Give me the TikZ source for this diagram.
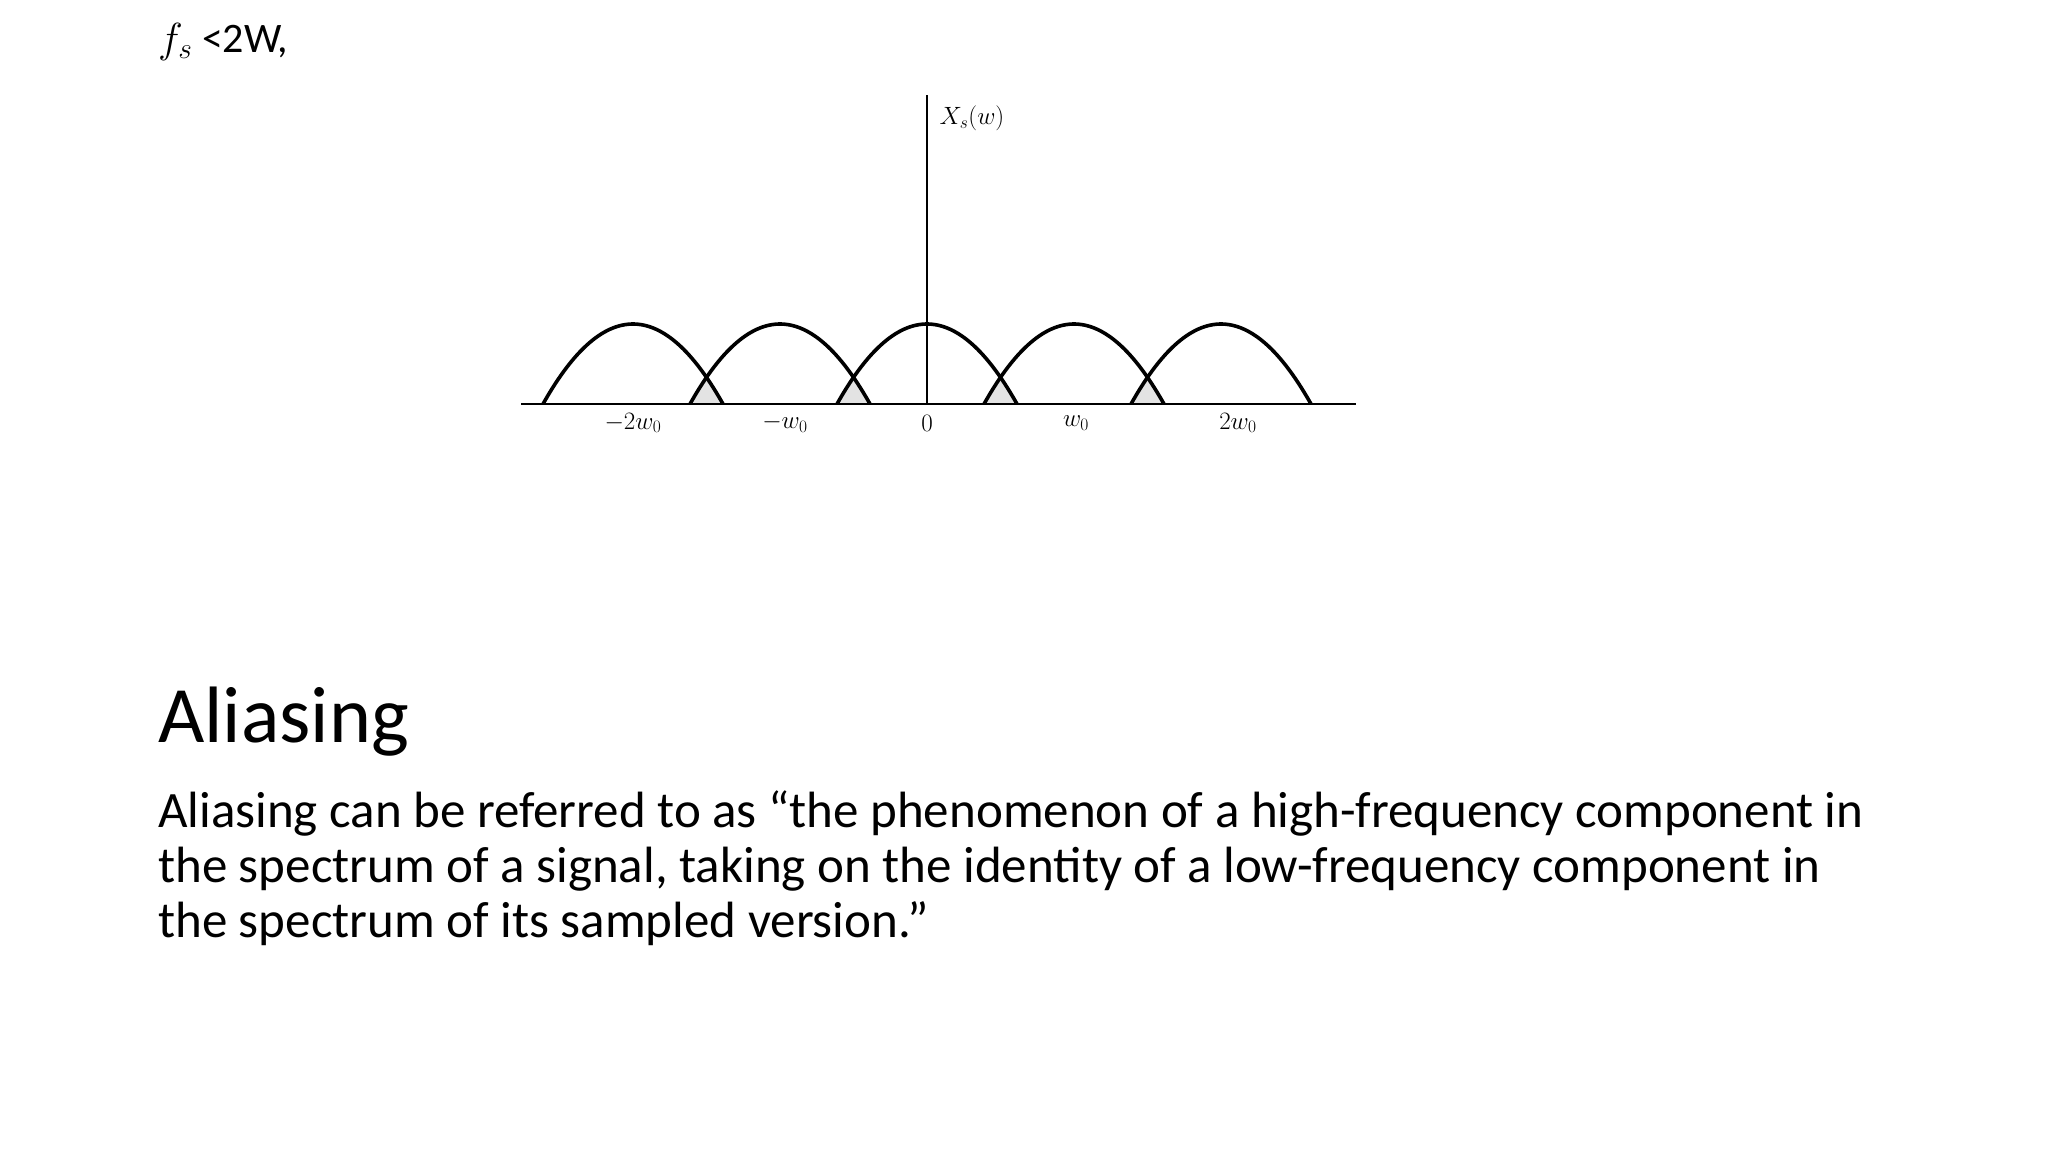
\RequirePackage{fix-cm}
\documentclass[tikz,border=0pt]{standalone}
\usepackage{fontspec}
\setmainfont{Carlito}
\begin{document}
\begin{tikzpicture}[x=1pt,y=-1pt,
  ax/.style={line width=2.2pt},
  hump/.style={line width=3.6pt,line join=round},
  lab/.style={font=\fontsize{25}{30}\selectfont,anchor=center}]
\useasboundingbox (0,0) rectangle (2048,1152);
\fill[white] (0,0) rectangle (2048,1152);
\def\hw{90}\def\hh{80}
\foreach \k in {-2,-1,0,1} {
  \pgfmathsetmacro\ca{927+\k*147}
  \pgfmathsetmacro\cb{927+(\k+1)*147}
  \begin{scope}
    \clip[domain=-\hw:\hw,samples=40] plot ({\ca+\x},{404-\hh*(1-(\x/\hw)^2)}) -- cycle;
    \fill[gray!22,domain=-\hw:\hw,samples=40] plot ({\cb+\x},{404-\hh*(1-(\x/\hw)^2)}) -- cycle;
  \end{scope}
}
\foreach \k in {-2,-1,0,1,2} {
  \pgfmathsetmacro\c{927+\k*147}
  \draw[hump,domain=-\hw:\hw,samples=60] plot ({\c+\x},{404-\hh*(1-(\x/\hw)^2)});
}
\coordinate (xl) at (521,404); \coordinate (xr) at (1356,404);
\coordinate (yb) at (927,404); \coordinate (yt) at (927,95);
\draw[ax] (xl) -- (xr);
\draw[ax] (yb) -- (yt);
\node[lab,anchor=west] (xs) at (936,118) {$X_s(w)$};
\node[lab] (l1) at (633,423) {$-2w_0$};
\node[lab] (l2) at (785,423) {$-w_0$};
\node[lab] (l3) at (927,423) {$0$};
\node[lab] (l4) at (1076,423) {$w_0$};
\node[lab] (l5) at (1238,423) {$2w_0$};
\node[anchor=base west,inner sep=0pt,font=\fontsize{42}{48}\selectfont] (fs) at (158,52) {$f_s$ <2W,};
\node[anchor=base west,inner sep=0pt,font=\fontsize{80}{90}\selectfont] (h) at (158,742) {Aliasing};
\node[anchor=base west,inner sep=0pt,align=left,font=\fontsize{51}{55}\selectfont] (b) at (158,937) {Aliasing can be referred to as “the phenomenon of a high-frequency component in\\the spectrum of a signal, taking on the identity of a low-frequency component in\\the spectrum of its sampled version.”};
\end{tikzpicture}
\end{document}
